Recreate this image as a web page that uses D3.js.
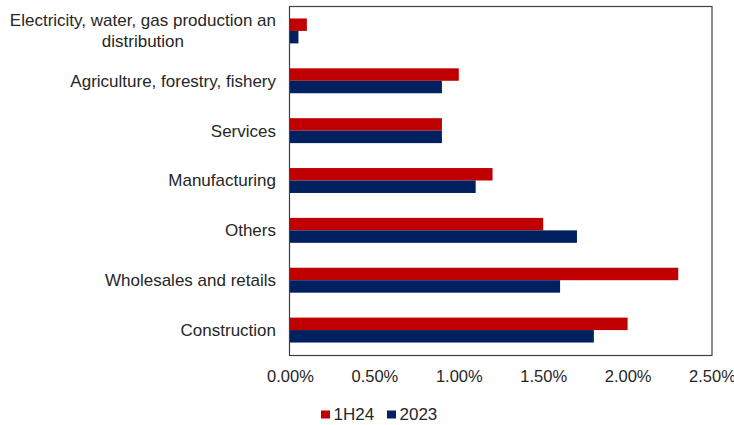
<!DOCTYPE html>
<html>
<head>
<meta charset="utf-8">
<script src="https://cdn.jsdelivr.net/npm/d3@7/dist/d3.min.js"></script>
<style>
  html, body { margin: 0; padding: 0; background: #fff; }
  svg { display: block; font-family: "Liberation Sans", Arial, sans-serif; }
</style>
</head>
<body>
<svg id="chart" width="734" height="425"></svg>
<script>
// Sectors, listed top to bottom
const categories = [
  ["Electricity, water, gas production an", "distribution"],
  ["Agriculture, forestry, fishery"],
  ["Services"],
  ["Manufacturing"],
  ["Others"],
  ["Wholesales and retails"],
  ["Construction"]
];
const seriesNames = ["1H24", "2023"];
const values1H24 = [0.10, 1.00, 0.90, 1.20, 1.50, 2.30, 2.00];
const values2023 = [0.05, 0.90, 0.90, 1.10, 1.70, 1.60, 1.80];
const xTicks = [0, 0.5, 1.0, 1.5, 2.0, 2.5];
const colors = ["#C00000", "#002060"];

const svg = d3.select("#chart");
const plot = { left: 290, right: 712, top: 6, bottom: 355 };

const x = d3.scaleLinear().domain([0, 2.5]).range([plot.left, plot.right]);
const keys = categories.map((c, i) => i);
const y = d3.scaleBand().domain(keys).range([plot.top, plot.bottom]).paddingInner(0.5).paddingOuter(0.25);
const ySub = d3.scaleBand().domain(seriesNames).range([0, y.bandwidth()]);

const rows = keys.map(i => ({ i, vals: [values1H24[i], values2023[i]] }));

// bars
const groups = svg.append("g").selectAll("g").data(rows).join("g")
  .attr("transform", d => `translate(0,${y(d.i)})`);
groups.selectAll("rect").data(d => d.vals.map((v, k) => ({ v, k })))
  .join("rect")
  .attr("x", x(0))
  .attr("y", d => ySub(seriesNames[d.k]))
  .attr("width", d => x(d.v) - x(0))
  .attr("height", ySub.bandwidth())
  .attr("fill", d => colors[d.k]);

// frame
svg.append("rect")
  .attr("x", plot.left - 0.5).attr("y", plot.top + 0.5)
  .attr("width", plot.right - plot.left + 0.5).attr("height", plot.bottom - plot.top)
  .attr("fill", "none").attr("stroke", "#404040").attr("stroke-width", 1.2);

// x axis labels
const xAxis = d3.axisBottom(x).tickValues(xTicks).tickSize(0).tickPadding(0)
  .tickFormat(d => d3.format(".2f")(d) + "%");
const gx = svg.append("g").attr("transform", `translate(0,${plot.bottom + 15})`).call(xAxis);
gx.select(".domain").remove();
gx.selectAll("text").attr("font-size", 16.5).attr("fill", "#262626")
  .attr("font-family", "Liberation Sans, Arial, sans-serif");

// category labels, block right-aligned, lines centred within block
const labelRight = 276;
const lineH = 21;
const labels = svg.append("g").attr("font-size", 17).attr("fill", "#262626");
rows.forEach(r => {
  const lines = categories[r.i];
  const cy = y(r.i) + y.bandwidth() / 2;
  const t = labels.append("text").attr("text-anchor", "middle");
  lines.forEach((ln, j) => {
    t.append("tspan").text(ln)
      .attr("y", cy + (j - (lines.length - 1) / 2) * lineH)
      .attr("dy", "0.35em");
  });
  let maxW = 0;
  t.selectAll("tspan").each(function () { maxW = Math.max(maxW, this.getComputedTextLength()); });
  t.selectAll("tspan").attr("x", labelRight - maxW / 2);
});

// legend
const legend = svg.append("g").attr("font-size", 17).attr("fill", "#262626");
const legendX = [321, 387];
seriesNames.forEach((name, k) => {
  legend.append("rect").attr("x", legendX[k]).attr("y", 410.5)
    .attr("width", 9).attr("height", 8).attr("fill", colors[k]);
  legend.append("text").attr("x", legendX[k] + 12.5).attr("y", 420).text(name);
});
</script>
</body>
</html>
